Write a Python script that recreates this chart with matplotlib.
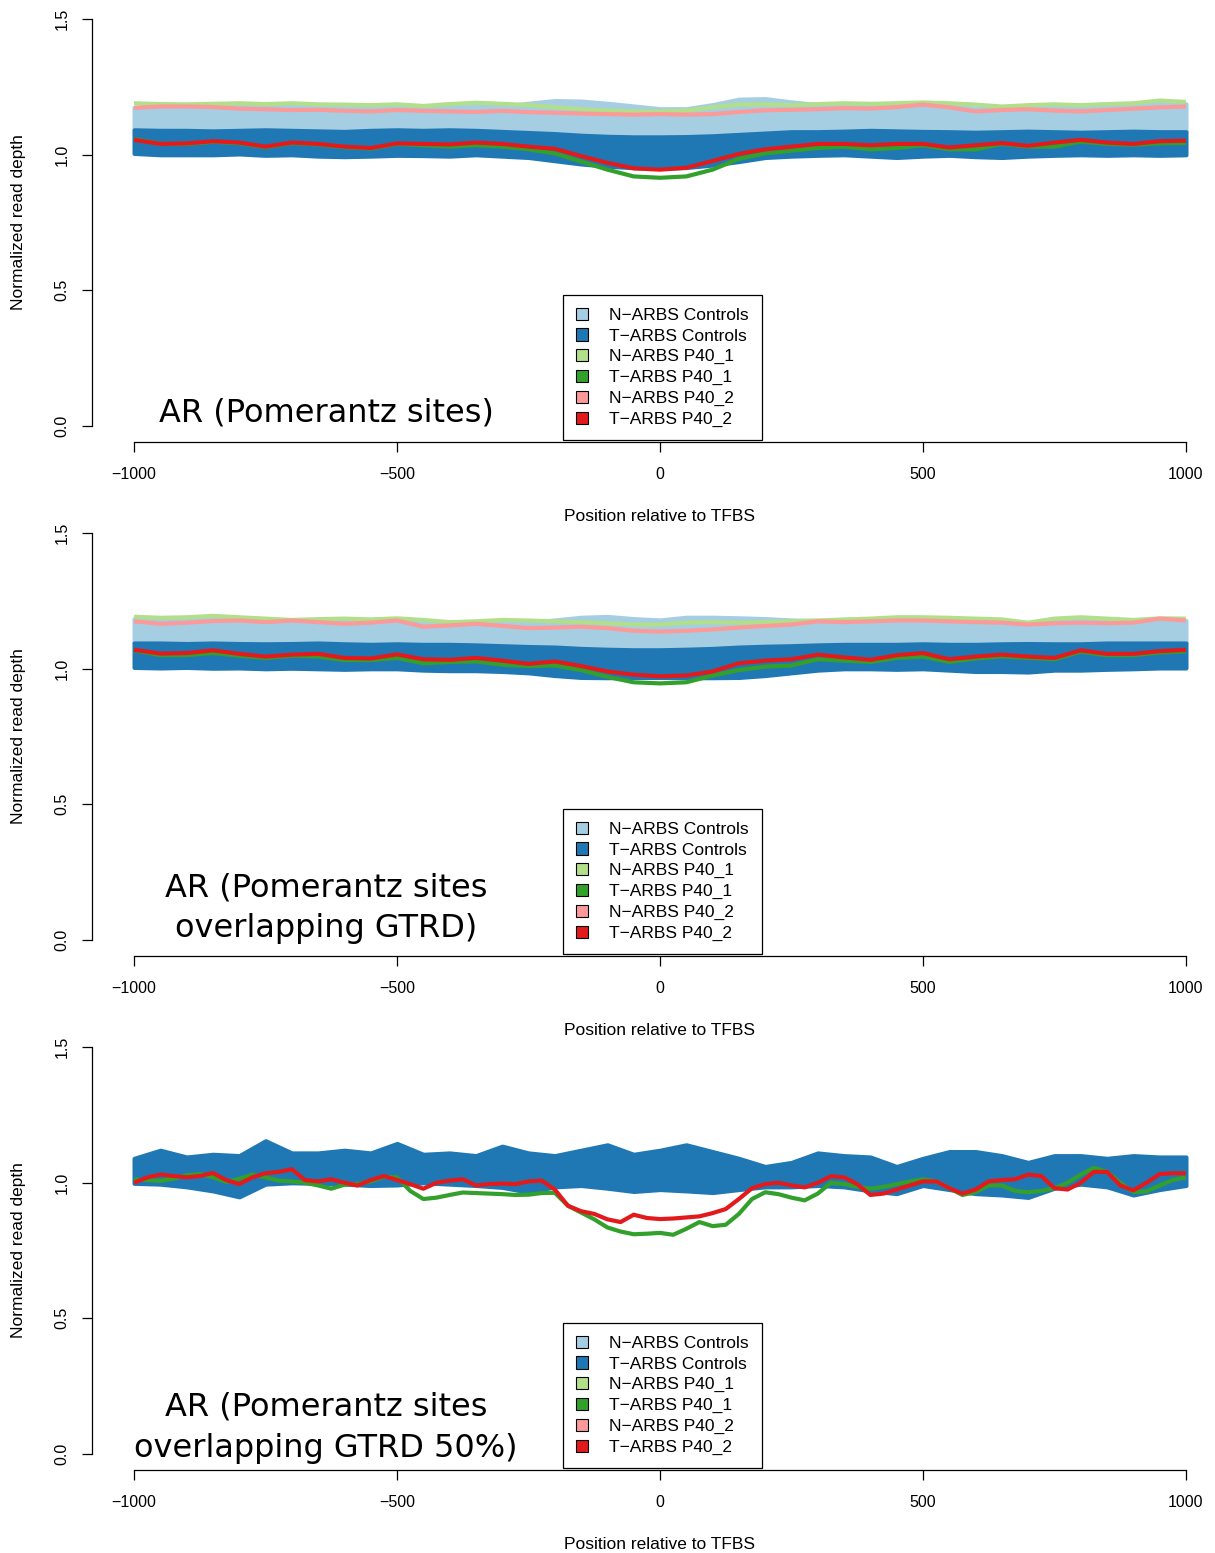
import numpy as np
import matplotlib
matplotlib.use("Agg")
import matplotlib.pyplot as plt
from matplotlib.patches import Patch
from matplotlib.ticker import FormatStrFormatter

# colours (RColorBrewer "Paired")
c_n_ctrl = "#A6CEE3"
c_t_ctrl = "#1F78B4"
c_n_p1 = "#B2DF8A"
c_t_p1 = "#33A02C"
c_n_p2 = "#FB9A99"
c_t_p2 = "#E31A1C"

legend_labels = ["N\u2212ARBS Controls", "T\u2212ARBS Controls", "N\u2212ARBS P40_1",
                 "T\u2212ARBS P40_1", "N\u2212ARBS P40_2", "T\u2212ARBS P40_2"]
titles = ["AR (Pomerantz sites)",
          "AR (Pomerantz sites\noverlapping GTRD)",
          "AR (Pomerantz sites\noverlapping GTRD 50%)"]

pos50 = np.arange(-1000, 1001, 50)
pos25 = np.arange(-1000, 1001, 25)

# ---- panel 1: all Pomerantz sites ----
p1_lb_upper = [1.175, 1.178, 1.178, 1.180, 1.180, 1.178, 1.180, 1.178, 1.175, 1.175,
               1.178, 1.172, 1.178, 1.185, 1.180, 1.190, 1.200, 1.198, 1.190, 1.180,
               1.170, 1.170, 1.185, 1.205, 1.207, 1.195, 1.185, 1.185, 1.180, 1.182,
               1.188, 1.180, 1.172, 1.170, 1.175, 1.178, 1.175, 1.178, 1.182, 1.190, 1.188]
p1_db_upper = [1.092, 1.090, 1.090, 1.088, 1.090, 1.092, 1.090, 1.088, 1.086, 1.090,
               1.092, 1.090, 1.092, 1.090, 1.086, 1.082, 1.078, 1.072, 1.068, 1.066,
               1.066, 1.067, 1.070, 1.075, 1.080, 1.085, 1.085, 1.087, 1.090, 1.088,
               1.086, 1.085, 1.083, 1.085, 1.087, 1.085, 1.083, 1.085, 1.087, 1.085, 1.085]
p1_db_lower = [1.005, 1.000, 1.000, 1.000, 1.003, 0.998, 1.000, 0.995, 0.993, 0.995,
               0.998, 0.997, 0.995, 1.000, 0.995, 0.990, 0.978, 0.966, 0.958, 0.952,
               0.950, 0.953, 0.962, 0.975, 0.990, 0.995, 0.998, 1.000, 0.995, 0.990,
               0.995, 0.998, 0.993, 0.990, 0.995, 0.998, 1.000, 0.998, 1.000, 0.998, 1.000]
p1_n_p40_1 = [1.190, 1.187, 1.186, 1.188, 1.190, 1.187, 1.190, 1.186, 1.185, 1.183,
              1.186, 1.180, 1.187, 1.192, 1.188, 1.183, 1.175, 1.168, 1.163, 1.160,
              1.160, 1.163, 1.175, 1.185, 1.186, 1.183, 1.187, 1.190, 1.188, 1.190,
              1.193, 1.190, 1.185, 1.178, 1.183, 1.186, 1.183, 1.187, 1.190, 1.200, 1.195]
p1_n_p40_2 = [1.173, 1.178, 1.178, 1.176, 1.170, 1.168, 1.165, 1.166, 1.162, 1.160,
              1.165, 1.162, 1.160, 1.158, 1.162, 1.157, 1.155, 1.152, 1.150, 1.148,
              1.150, 1.148, 1.150, 1.158, 1.164, 1.166, 1.168, 1.172, 1.170, 1.176,
              1.185, 1.175, 1.160, 1.165, 1.168, 1.163, 1.160, 1.165, 1.170, 1.175, 1.178]
p1_t_p40_1 = [1.058, 1.040, 1.040, 1.048, 1.043, 1.028, 1.043, 1.038, 1.028, 1.023,
              1.040, 1.035, 1.030, 1.035, 1.030, 1.020, 1.005, 0.975, 0.945, 0.920,
              0.915, 0.920, 0.945, 0.985, 1.005, 1.015, 1.025, 1.030, 1.020, 1.025,
              1.035, 1.020, 1.020, 1.040, 1.030, 1.030, 1.048, 1.040, 1.037, 1.042, 1.043]
p1_t_p40_2 = [1.055, 1.040, 1.042, 1.050, 1.045, 1.030, 1.045, 1.040, 1.030, 1.025,
              1.042, 1.040, 1.038, 1.045, 1.040, 1.030, 1.022, 0.995, 0.970, 0.950,
              0.945, 0.952, 0.977, 1.003, 1.020, 1.030, 1.040, 1.040, 1.035, 1.040,
              1.040, 1.027, 1.035, 1.043, 1.033, 1.045, 1.055, 1.045, 1.040, 1.050, 1.052]

# ---- panel 2: sites overlapping GTRD ----
p2_lb_upper = [1.185, 1.180, 1.185, 1.188, 1.185, 1.180, 1.178, 1.178, 1.178, 1.178,
               1.182, 1.175, 1.168, 1.172, 1.175, 1.172, 1.180, 1.190, 1.193, 1.185,
               1.180, 1.190, 1.190, 1.188, 1.185, 1.180, 1.178, 1.178, 1.180, 1.185,
               1.185, 1.183, 1.180, 1.178, 1.168, 1.178, 1.183, 1.180, 1.175, 1.180, 1.178]
p2_db_upper = [1.095, 1.095, 1.093, 1.095, 1.093, 1.092, 1.093, 1.095, 1.092, 1.090,
               1.092, 1.090, 1.090, 1.088, 1.085, 1.082, 1.080, 1.075, 1.072, 1.070,
               1.070, 1.072, 1.075, 1.080, 1.083, 1.085, 1.088, 1.090, 1.090, 1.090,
               1.092, 1.090, 1.090, 1.092, 1.093, 1.092, 1.092, 1.095, 1.095, 1.095, 1.095]
p2_db_lower = [1.005, 1.003, 1.005, 1.002, 1.003, 1.000, 1.002, 1.000, 0.998, 1.000,
               1.000, 0.995, 0.993, 0.993, 0.990, 0.985, 0.975, 0.968, 0.967, 0.968,
               0.968, 0.967, 0.967, 0.968, 0.975, 0.985, 0.995, 1.000, 1.000, 0.998,
               1.000, 0.995, 0.990, 0.990, 0.988, 0.995, 0.995, 0.998, 1.000, 1.003, 1.003]
p2_n_p40_1 = [1.192, 1.188, 1.190, 1.195, 1.190, 1.185, 1.180, 1.183, 1.185, 1.182,
              1.186, 1.180, 1.172, 1.175, 1.180, 1.178, 1.175, 1.172, 1.168, 1.163,
              1.163, 1.170, 1.172, 1.170, 1.172, 1.175, 1.178, 1.182, 1.185, 1.190,
              1.190, 1.188, 1.185, 1.182, 1.170, 1.185, 1.190, 1.185, 1.180, 1.186, 1.185]
p2_n_p40_2 = [1.175, 1.166, 1.170, 1.176, 1.178, 1.172, 1.178, 1.172, 1.166, 1.170,
              1.178, 1.155, 1.160, 1.166, 1.158, 1.150, 1.152, 1.155, 1.150, 1.140,
              1.137, 1.140, 1.145, 1.152, 1.158, 1.163, 1.175, 1.172, 1.175, 1.178,
              1.178, 1.175, 1.172, 1.170, 1.163, 1.168, 1.170, 1.168, 1.170, 1.185, 1.178]
p2_t_p40_1 = [1.068, 1.050, 1.050, 1.058, 1.048, 1.040, 1.048, 1.045, 1.032, 1.032,
              1.040, 1.020, 1.025, 1.027, 1.015, 1.010, 1.012, 0.995, 0.970, 0.950,
              0.946, 0.950, 0.975, 0.995, 1.008, 1.012, 1.035, 1.030, 1.025, 1.040,
              1.045, 1.025, 1.038, 1.046, 1.040, 1.035, 1.063, 1.050, 1.050, 1.060, 1.064]
p2_t_p40_2 = [1.070, 1.056, 1.058, 1.068, 1.055, 1.045, 1.052, 1.055, 1.040, 1.038,
              1.053, 1.035, 1.033, 1.040, 1.030, 1.018, 1.027, 1.010, 0.990, 0.978,
              0.972, 0.975, 0.990, 1.020, 1.030, 1.035, 1.052, 1.042, 1.033, 1.050,
              1.058, 1.035, 1.045, 1.052, 1.045, 1.040, 1.068, 1.055, 1.055, 1.065, 1.070]

# ---- panel 3: sites overlapping GTRD 50% (tumour only) ----
p3_db_upper = [1.090, 1.120, 1.095, 1.105, 1.100, 1.155, 1.110, 1.110, 1.120, 1.110,
               1.145, 1.105, 1.110, 1.100, 1.135, 1.110, 1.100, 1.120, 1.140, 1.105,
               1.120, 1.140, 1.115, 1.090, 1.060, 1.075, 1.110, 1.100, 1.095, 1.060,
               1.090, 1.115, 1.115, 1.100, 1.075, 1.100, 1.100, 1.090, 1.100, 1.095, 1.095]
p3_db_lower = [0.998, 0.995, 0.985, 0.970, 0.948, 0.995, 1.000, 0.998, 0.995, 0.990,
               0.992, 1.000, 0.995, 0.990, 0.983, 0.965, 0.985, 0.990, 0.980, 0.968,
               0.975, 0.970, 0.964, 0.975, 0.985, 0.985, 0.990, 0.985, 0.970, 0.960,
               0.990, 0.975, 0.960, 0.955, 0.946, 0.980, 0.995, 0.985, 0.955, 0.975, 0.990]
p3_t_p40_1 = [1.012, 1.010, 1.007, 1.015, 1.028, 1.032, 1.020, 1.003, 1.015, 1.030,
              1.020, 1.008, 1.005, 1.000, 0.990, 0.978, 0.993, 0.995, 1.005, 1.022,
              1.020, 0.970, 0.940, 0.945, 0.955, 0.964, 0.962, 0.960, 0.958, 0.955,
              0.956, 0.962, 0.963, 0.915, 0.890, 0.865, 0.835, 0.820, 0.810, 0.812,
              0.815, 0.808, 0.830, 0.855, 0.840, 0.845, 0.885, 0.940, 0.965, 0.958,
              0.945, 0.935, 0.960, 1.000, 0.995, 0.985, 0.978, 0.985, 0.995, 1.005,
              1.013, 1.005, 0.980, 0.955, 0.965, 0.990, 0.990, 0.970, 0.965, 0.970,
              0.980, 1.000, 1.030, 1.055, 1.040, 1.000, 0.966, 0.968, 0.990, 1.010, 1.020]
p3_t_p40_2 = [1.000, 1.020, 1.030, 1.025, 1.020, 1.025, 1.036, 1.010, 0.995, 1.020,
              1.035, 1.040, 1.050, 1.010, 1.005, 1.013, 1.000, 0.990, 1.010, 1.025,
              1.010, 0.995, 0.978, 1.000, 1.008, 1.013, 0.990, 0.995, 0.997, 0.995,
              1.005, 1.008, 0.975, 0.915, 0.895, 0.885, 0.865, 0.855, 0.882, 0.870,
              0.866, 0.868, 0.872, 0.876, 0.888, 0.903, 0.940, 0.980, 0.995, 1.000,
              0.990, 0.983, 1.000, 1.024, 1.020, 0.995, 0.955, 0.960, 0.975, 0.990,
              1.005, 1.005, 0.980, 0.960, 0.975, 1.005, 1.010, 1.013, 1.030, 1.025,
              0.980, 0.975, 1.000, 1.040, 1.040, 0.990, 0.972, 1.000, 1.032, 1.035, 1.035]

panels = [
    dict(lb_upper=p1_lb_upper, db_upper=p1_db_upper, db_lower=p1_db_lower,
         n1=p1_n_p40_1, n2=p1_n_p40_2, t1=p1_t_p40_1, t2=p1_t_p40_2, x=pos50,
         title_y=0.048),
    dict(lb_upper=p2_lb_upper, db_upper=p2_db_upper, db_lower=p2_db_lower,
         n1=p2_n_p40_1, n2=p2_n_p40_2, t1=p2_t_p40_1, t2=p2_t_p40_2, x=pos50,
         title_y=0.115),
    dict(lb_upper=None, db_upper=p3_db_upper, db_lower=p3_db_lower,
         n1=None, n2=None, t1=p3_t_p40_1, t2=p3_t_p40_2, x=pos25,
         title_y=0.096),
]

W, H = 1215, 1553
fig = plt.figure(figsize=(W / 100, H / 100), dpi=100)
axfont = "Liberation Sans"
lw = 3

for i, p in enumerate(panels):
    top = 3 + 514 * i
    bot = 442 + 514 * i
    left, right = 92, 1228
    ax = fig.add_axes([left / W, 1 - bot / H, (right - left) / W, (bot - top) / H])
    ax.patch.set_visible(False)
    ax.set_xlim(-1080, 1080)
    ax.set_ylim(-0.06, 1.56)

    # control bands
    if p["lb_upper"] is not None:
        ax.fill_between(pos50, p["db_upper"], p["lb_upper"], color=c_n_ctrl,
                        lw=lw, edgecolor=c_n_ctrl)
    ax.fill_between(pos50, p["db_lower"], p["db_upper"], color=c_t_ctrl,
                    lw=lw, edgecolor=c_t_ctrl)

    # P40 samples
    if p["n1"] is not None:
        ax.plot(pos50, p["n1"], color=c_n_p1, lw=lw, solid_capstyle="butt")
        ax.plot(pos50, p["n2"], color=c_n_p2, lw=lw, solid_capstyle="butt")
    ax.plot(p["x"], p["t1"], color=c_t_p1, lw=lw, solid_capstyle="butt")
    ax.plot(p["x"], p["t2"], color=c_t_p2, lw=lw, solid_capstyle="butt")

    # R-style axes
    for s in ["top", "right"]:
        ax.spines[s].set_visible(False)
    ax.spines["left"].set_bounds(0, 1.5)
    ax.spines["bottom"].set_bounds(-1000, 1000)
    ax.spines["left"].set_linewidth(0.9)
    ax.spines["bottom"].set_linewidth(0.9)
    ax.set_xticks([-1000, -500, 0, 500, 1000])
    ax.set_yticks([0, 0.5, 1.0, 1.5])
    ax.yaxis.set_major_formatter(FormatStrFormatter("%.1f"))
    ax.tick_params(length=7, width=0.9, labelsize=11.5)
    ax.tick_params(axis="x", pad=11)
    ax.tick_params(axis="y", pad=9)
    for lab in ax.get_xticklabels() + ax.get_yticklabels():
        lab.set_fontfamily(axfont)
    for lab in ax.get_yticklabels():
        lab.set_rotation(90)
        lab.set_va("center")

    ax.set_xlabel("Position relative to TFBS", fontsize=12.5, fontfamily=axfont)
    ax.xaxis.set_label_coords(0.5, -0.1686)
    ax.xaxis.label.set_va("center")
    ax.set_ylabel("Normalized read depth", fontsize=12.5, fontfamily=axfont)
    ax.yaxis.set_label_coords(-(left - 19) / (right - left), 0.5)
    ax.yaxis.label.set_va("center")

    ax.text(-635, p["title_y"], titles[i], ha="center", va="center",
            fontsize=23, fontfamily="DejaVu Sans", linespacing=1.4)

    handles = [Patch(facecolor=c, edgecolor="black", lw=0.8)
               for c in [c_n_ctrl, c_t_ctrl, c_n_p1, c_t_p1, c_n_p2, c_t_p2]]
    leg = ax.legend(handles, legend_labels, loc="lower left",
                    bbox_to_anchor=((563 - left) / (right - left), 2 / (bot - top)),
                    borderaxespad=0, fancybox=False, framealpha=1,
                    edgecolor="black", handlelength=0.7, handleheight=0.7,
                    handletextpad=1.2, labelspacing=0.32, borderpad=0.75,
                    prop={"family": axfont, "size": 12.5})
    leg.get_frame().set_linewidth(0.9)

fig.savefig("out.png", dpi=100)
